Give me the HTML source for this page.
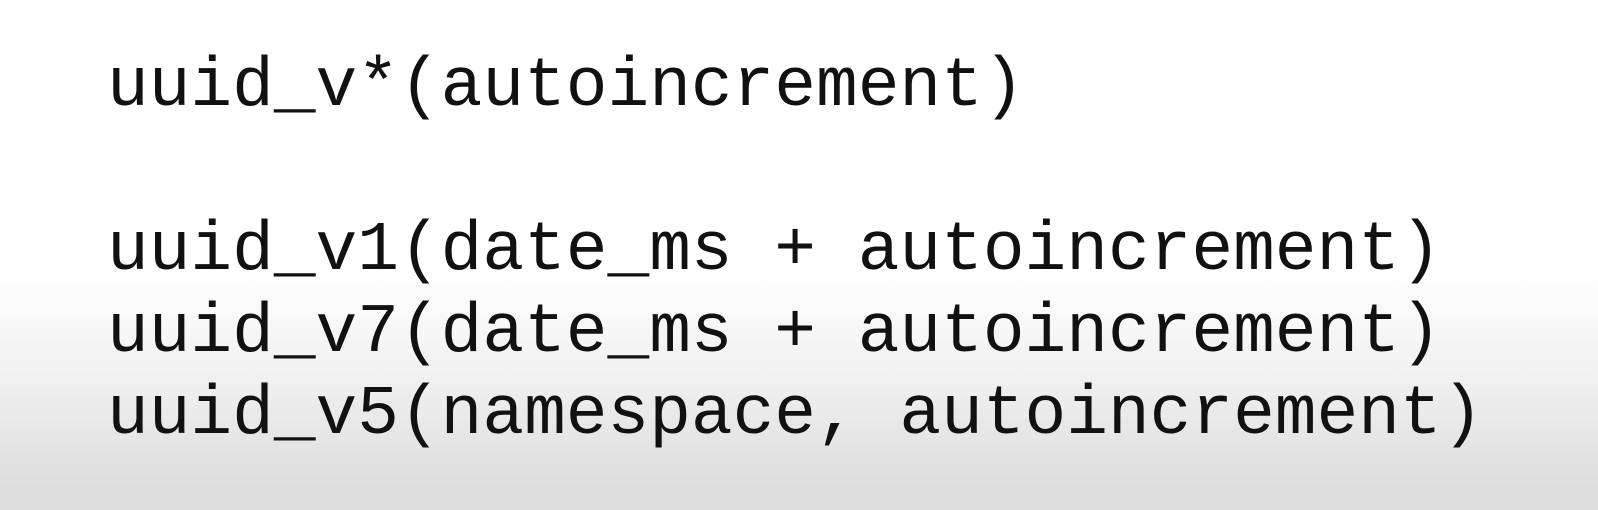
<!DOCTYPE html>
<html><head><style>
html,body{margin:0;padding:0}
body{width:1598px;height:510px;overflow:hidden;position:relative;
background:linear-gradient(to bottom,#fff 0px,#fff 270px,#f0f0f0 380px,#e0e0e0 470px,#dcdcdc 510px);
font-family:"Liberation Mono",monospace;color:#111}
.l{position:absolute;left:107px;font-size:69.5px;line-height:1;white-space:pre}
</style></head><body>
<div class="l" style="top:52px">uuid_v*(autoincrement)</div>
<div class="l" style="top:216px">uuid_v1(date_ms + autoincrement)</div>
<div class="l" style="top:298px">uuid_v7(date_ms + autoincrement)</div>
<div class="l" style="top:380px">uuid_v5(namespace, autoincrement)</div>
</body></html>
